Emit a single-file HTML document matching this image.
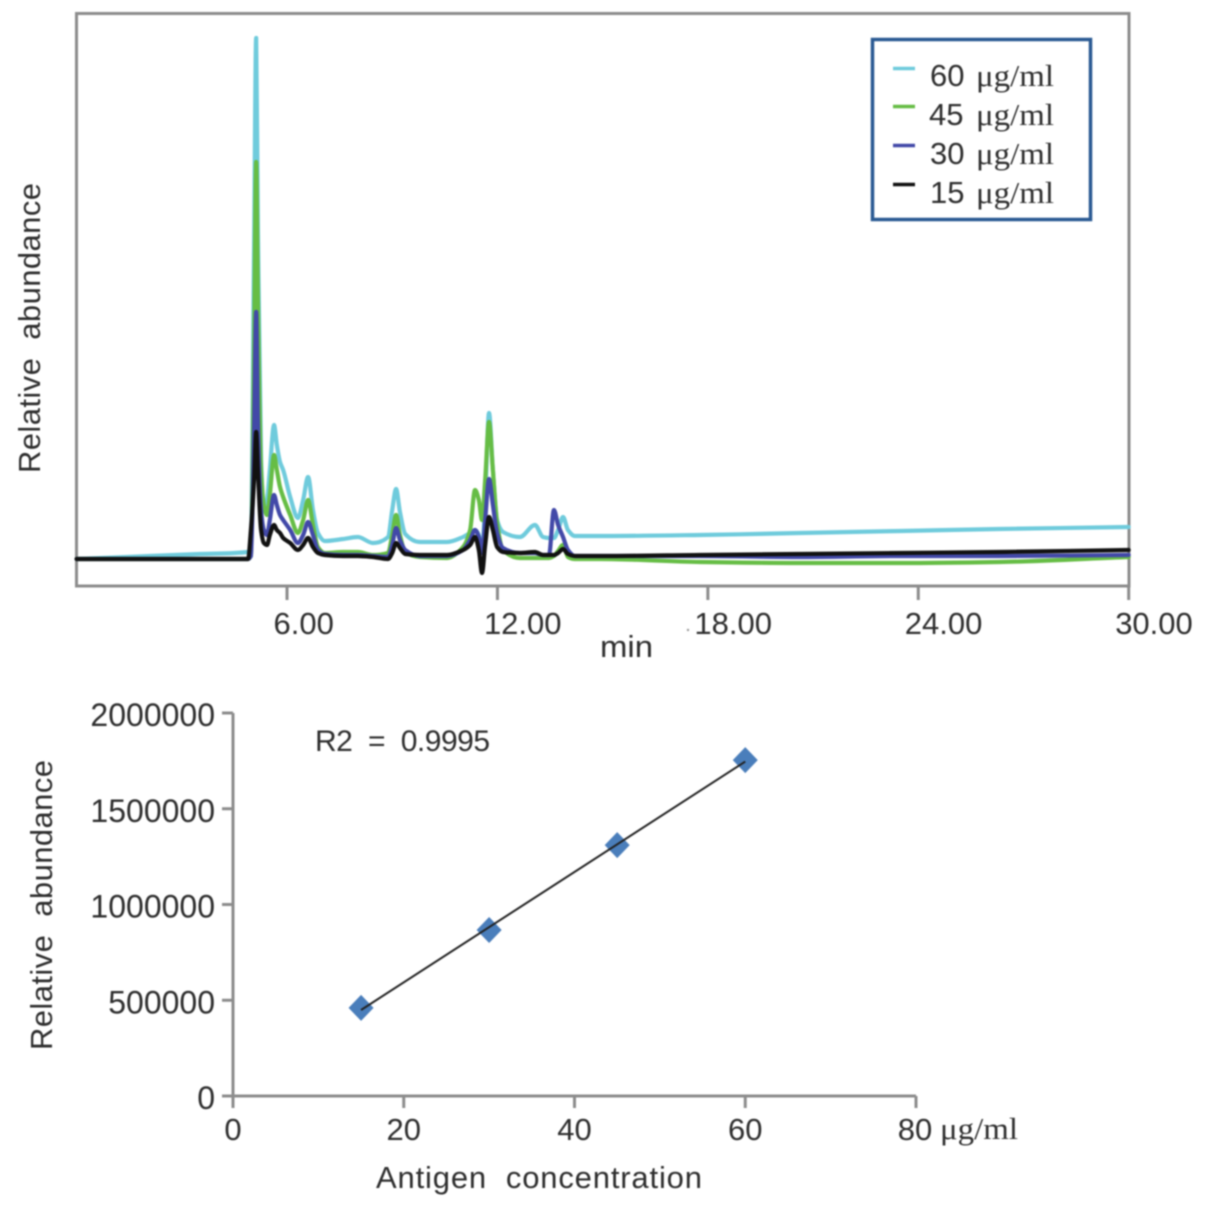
<!DOCTYPE html>
<html>
<head>
<meta charset="utf-8">
<title>Antigen chromatogram and calibration</title>
<style>
html,body{margin:0;padding:0;background:#fff;}
svg{display:block;filter:blur(0.7px);}
text{font-family:"Liberation Sans",sans-serif;fill:#2e2e2e;white-space:pre;}
.serif{font-family:"Liberation Serif",serif;}
</style>
</head>
<body>
<svg id="figure" xmlns="http://www.w3.org/2000/svg" width="1205" height="1207" viewBox="0 0 1205 1207">
  <rect x="0" y="0" width="1205" height="1207" fill="#fff"/>
  <g id="top-chart">
    <rect x="76.5" y="13.5" width="1052.5" height="572.5" fill="none" stroke="#8c8c8c" stroke-width="3"/>
    <g id="top-ticks"></g>
    <g id="traces"></g>
    <text x="0" y="0" transform="translate(40,473) rotate(-90)" font-size="31" textLength="290" lengthAdjust="spacing">Relative  abundance</text>
    <text x="600" y="657" font-size="31" textLength="53" lengthAdjust="spacingAndGlyphs">min</text>
    <circle cx="688" cy="630" r="1.2" fill="#999"/>
    <g>
      <rect x="872.5" y="39.5" width="218" height="180" fill="#fff" stroke="#2a5a93" stroke-width="3.5"/>
      <line x1="893" x2="915" y1="68.5" y2="68.5" stroke="#6fcbdc" stroke-width="3.5"/>
      <line x1="893" x2="915" y1="106.5" y2="106.5" stroke="#66bd45" stroke-width="3.5"/>
      <line x1="893" x2="915" y1="145.5" y2="145.5" stroke="#4249a8" stroke-width="3.5"/>
      <line x1="893" x2="915" y1="184.5" y2="184.5" stroke="#111" stroke-width="3.5"/>
      <text x="930" y="86" font-size="31">60<tspan class="serif" x="976" textLength="78" lengthAdjust="spacingAndGlyphs">μg/ml</tspan></text>
      <text x="929" y="125" font-size="31">45<tspan class="serif" x="976" textLength="78" lengthAdjust="spacingAndGlyphs">μg/ml</tspan></text>
      <text x="930" y="164" font-size="31">30<tspan class="serif" x="976" textLength="78" lengthAdjust="spacingAndGlyphs">μg/ml</tspan></text>
      <text x="930" y="203" font-size="31">15<tspan class="serif" x="976" textLength="78" lengthAdjust="spacingAndGlyphs">μg/ml</tspan></text>
    </g>
  </g>
  <g id="bottom-chart">
    <g id="bottom-axes"></g>
    <g id="bottom-marks"></g>
    <text x="0" y="0" transform="translate(52,1050) rotate(-90)" font-size="31" textLength="290" lengthAdjust="spacing">Relative  abundance</text>
    <text x="376" y="1188" font-size="31" textLength="326" lengthAdjust="spacing">Antigen  concentration</text>
    <text x="315" y="751" font-size="30" textLength="175" lengthAdjust="spacing">R2  =  0.9995</text>
    <text class="serif" x="940" y="1139" font-size="31" textLength="78" lengthAdjust="spacingAndGlyphs">μg/ml</text>
  </g>
</svg>
<script>
// Chromatogram data: retention time (min) and relative abundance (arbitrary units)
const times = [
  0,2.09,3.52,4.89,4.97,5.06,5.12,5.17,5.26,5.34,
  5.43,5.51,5.63,5.71,5.80,5.89,6.09,6.31,6.46,6.60,
  6.74,6.88,7.08,7.60,8.02,8.45,8.88,9.0,9.11,9.22,
  9.37,9.79,10.56,11.02,11.22,11.36,11.47,11.56,11.65,11.76,
  11.87,11.99,12.16,12.64,13.07,13.30,13.47,13.61,13.73,13.87,
  14.01,14.21,14.92,17.78,20.6,23.5,26.3,30
];
const trace60 = [
  0,3,5,7,14,309,521,329,99,49,
  59,89,134,114,97,89,62,41,59,82,
  49,26,18,20,22,16,22,49,70,47,
  25,17,17,22,26,29,24,6,59,146,
  89,39,27,22,34,22,21,21,29,42,
  29,23,23,24,26,28,30,32
];
const trace45 = [
  0,0,0,0,3,209,397,259,89,54,
  44,64,104,89,72,62,44,26,39,59,
  34,12,6,7,7,4,6,24,44,24,
  7,2,1,12,29,69,59,39,79,137,
  89,36,9,1,1,1,1,3,8,14,
  2,0,0,-3,-4,-4,-3,2
];
const trace30 = [
  0,0,0,0,3,129,247,139,49,29,
  24,39,64,54,44,39,29,16,24,37,
  24,9,5,4,4,3,2,14,31,19,
  9,3,3,9,19,29,22,6,39,80,
  54,26,11,6,6,4,4,49,34,22,
  9,3,3,3,2,3,3,4
];
const trace15 = [
  0,0,0,0,29,79,127,89,29,16,
  14,24,34,29,26,21,16,9,14,21,
  12,6,4,3,3,2,0,6,16,11,
  5,4,4,9,14,22,9,-14,14,42,
  29,12,7,6,7,4,4,4,6,10,
  5,3,3,4,5,6,7,9
];
const timeTicks = [6, 12, 18, 24, 30];
const timeTickLabels = ["6.00", "12.00", "18.00", "24.00", "30.00"];

// Calibration data
const concentrations = [15, 30, 45, 60];
const abundances = [460000, 867000, 1310000, 1754000];
const concTicks = [0, 20, 40, 60, 80];
const concTickLabels = ["0", "20", "40", "60", "80"];
const abundanceTicks = [0, 500000, 1000000, 1500000, 2000000];
const abundanceTickLabels = ["0", "500000", "1000000", "1500000", "2000000"];

const NS = "http://www.w3.org/2000/svg";
function make(parent, tag, attrs, txt) {
  const el = document.createElementNS(NS, tag);
  for (const k in attrs) el.setAttribute(k, attrs[k]);
  if (txt !== undefined) el.textContent = txt;
  parent.appendChild(el);
  return el;
}
// Axis functions
function xTime(t) { return 76.6 + t * 35.07; }
function yTrace(v) { return 559 - v; }
function xConc(c) { return 233 + c * 8.5375; }
function yAbund(a) { return 1096 - a * 383 / 2000000; }

// Monotone cubic path through points, so peaks stay rounded without overshoot
function smoothPath(xs, ys) {
  const m = xs.length;
  const sl = [];
  for (let i = 0; i < m - 1; i++) sl.push((ys[i + 1] - ys[i]) / (xs[i + 1] - xs[i]));
  const tan = [sl[0]];
  for (let i = 1; i < m - 1; i++) {
    if (sl[i - 1] * sl[i] <= 0) { tan.push(0); continue; }
    const h0 = xs[i] - xs[i - 1], h1 = xs[i + 1] - xs[i];
    tan.push(3 * (h0 + h1) / ((2 * h1 + h0) / sl[i - 1] + (h1 + 2 * h0) / sl[i]));
  }
  tan.push(sl[m - 2]);
  let d = "M" + xs[0].toFixed(2) + " " + ys[0].toFixed(2);
  for (let i = 0; i < m - 1; i++) {
    const h = (xs[i + 1] - xs[i]) / 3;
    d += " C" + (xs[i] + h).toFixed(2) + " " + (ys[i] + tan[i] * h).toFixed(2) + " " +
         (xs[i + 1] - h).toFixed(2) + " " + (ys[i + 1] - tan[i + 1] * h).toFixed(2) + " " +
         xs[i + 1].toFixed(2) + " " + ys[i + 1].toFixed(2);
  }
  return d;
}

// Top chart ticks
const topTicks = document.getElementById("top-ticks");
timeTicks.forEach(function (t, i) {
  const tick = make(topTicks, "line", {x1: xTime(t), x2: xTime(t), y1: 586, y2: 600, stroke: "#8c8c8c", "stroke-width": 3});
  
  
  const label = make(topTicks, "text", {x: xTime(t) - 13.5, y: 634, "font-size": 31}, timeTickLabels[i]);
  
  
});

// Traces
const traces = document.getElementById("traces");
function drawTrace(values, color) {
  const d = smoothPath(times.map(xTime), values.map(yTrace));
  return make(traces, "path", {d: d, fill: "none", stroke: color, "stroke-width": 4.2, "stroke-linejoin": "round", "stroke-linecap": "round"});
}
const line60 = drawTrace(trace60, "#6fcbdc");


const line45 = drawTrace(trace45, "#66bd45");


const line30 = drawTrace(trace30, "#4249a8");


const line15 = drawTrace(trace15, "#111111");



// Bottom chart axes
const axes = document.getElementById("bottom-axes");
const xAxisLine = make(axes, "line", {x1: xConc(0) - 11, x2: xConc(80), y1: yAbund(0), y2: yAbund(0), stroke: "#8c8c8c", "stroke-width": 3});


const yAxisLine = make(axes, "line", {x1: xConc(0), x2: xConc(0), y1: yAbund(2000000), y2: yAbund(0) + 12, stroke: "#8c8c8c", "stroke-width": 3});


concTicks.forEach(function (c, i) {
  const tick = make(axes, "line", {x1: xConc(c), x2: xConc(c), y1: yAbund(0), y2: yAbund(0) + 12, stroke: "#8c8c8c", "stroke-width": 3});
  
  
  const label = make(axes, "text", {x: xConc(c) - (i === 4 ? 1 : 0), y: 1140, "font-size": 31, "text-anchor": "middle"}, concTickLabels[i]);
  
  
});
abundanceTicks.forEach(function (a, i) {
  const tick = make(axes, "line", {x1: xConc(0) - 11, x2: xConc(0), y1: yAbund(a), y2: yAbund(a), stroke: "#8c8c8c", "stroke-width": 3});
  
  
  const label = make(axes, "text", {x: 215, y: yAbund(a) + 13, "font-size": 32, "text-anchor": "end"}, abundanceTickLabels[i]);
  
  
});

// Least-squares trend line from the data, then diamond markers
const marks = document.getElementById("bottom-marks");
const n = concentrations.length;
const meanX = concentrations.reduce(function (s, v) { return s + v; }, 0) / n;
const meanY = abundances.reduce(function (s, v) { return s + v; }, 0) / n;
let sxy = 0, sxx = 0;
concentrations.forEach(function (c, i) {
  sxy += (c - meanX) * (abundances[i] - meanY);
  sxx += (c - meanX) * (c - meanX);
});
const slope = sxy / sxx;
const intercept = meanY - slope * meanX;
concentrations.forEach(function (c, i) {
  const cx = xConc(c), cy = yAbund(abundances[i]);
  const marker = make(marks, "polygon", {
    points: cx + "," + (cy - 13) + " " + (cx + 12.5) + "," + cy + " " + cx + "," + (cy + 13) + " " + (cx - 12.5) + "," + cy,
    fill: "#4a7ebb"
  });
  
  
});
const cFirst = concentrations[0], cLast = concentrations[n - 1];
const trend = make(marks, "line", {
  x1: xConc(cFirst), y1: yAbund(intercept + slope * cFirst),
  x2: xConc(cLast), y2: yAbund(intercept + slope * cLast),
  stroke: "#222", "stroke-width": 2
});


</script>
</body>
</html>
